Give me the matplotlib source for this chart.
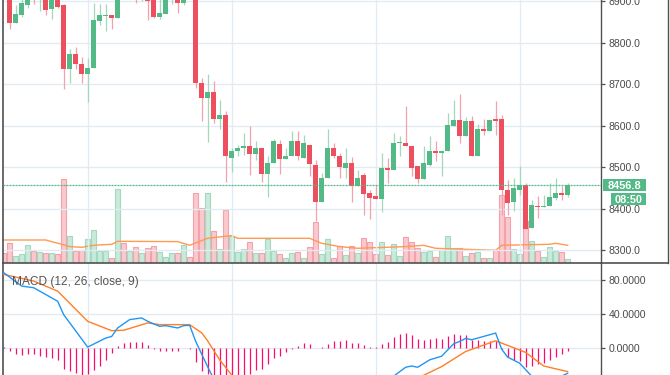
import matplotlib
matplotlib.use('Agg')
import matplotlib.pyplot as plt
import matplotlib.transforms as mtransforms
from matplotlib.patches import Rectangle

plt.rcParams['font.family'] = ['Liberation Sans', 'DejaVu Sans']

# candles (index 0 is the half hidden one at the left edge)
opens = [8935, 8915, 8847, 8866, 8890, 8925, 8910, 8920, 8881, 8912,
         8890, 8737, 8773, 8749, 8725, 8739, 8852, 8865, 8866, 8859,
         8925, 8912, 8930, 8908, 8920, 8915, 8862, 8869, 8905, 8925,
         8894, 8925, 8915, 8703, 8667, 8681, 8617, 8626, 8522, 8540,
         8545, 8550, 8531, 8547, 8483, 8509, 8555, 8519, 8526, 8562,
         8523, 8554, 8506, 8416, 8473, 8545, 8528, 8497, 8511, 8454,
         8480, 8437, 8430, 8423, 8498, 8493, 8558, 8559, 8552, 8502,
         8471, 8506, 8540, 8533, 8538, 8600, 8614, 8574, 8612, 8528,
         8593, 8586, 8617, 8617, 8446, 8415, 8446, 8458, 8353, 8407,
         8405, 8406, 8425, 8439, 8432]
highs = [8950, 8925, 8890, 8905, 8915, 8935, 8940, 8930, 8915, 8920,
         8893, 8785, 8790, 8766, 8763, 8895, 8893, 8893, 8866, 8930,
         8940, 8935, 8945, 8925, 8930, 8925, 8905, 8925, 8930, 8935,
         8920, 8940, 8925, 8715, 8725, 8708, 8662, 8636, 8547, 8554,
         8583, 8600, 8562, 8547, 8527, 8569, 8566, 8547, 8586, 8586,
         8578, 8554, 8518, 8487, 8593, 8557, 8535, 8547, 8524, 8494,
         8485, 8446, 8458, 8535, 8521, 8583, 8574, 8648, 8552, 8502,
         8552, 8574, 8564, 8540, 8631, 8662, 8677, 8621, 8624, 8605,
         8617, 8614, 8660, 8626, 8468, 8473, 8502, 8463, 8420, 8430,
         8432, 8463, 8473, 8454, 8463]
lows = [8908, 8833, 8847, 8862, 8882, 8893, 8876, 8867, 8857, 8884,
        8687, 8703, 8737, 8703, 8658, 8739, 8842, 8828, 8833, 8859,
        8905, 8906, 8896, 8900, 8854, 8860, 8857, 8869, 8893, 8871,
        8890, 8905, 8691, 8612, 8560, 8607, 8593, 8464, 8488, 8527,
        8530, 8480, 8518, 8464, 8428, 8509, 8483, 8519, 8526, 8517,
        8523, 8478, 8370, 8416, 8473, 8521, 8473, 8473, 8416, 8454,
        8385, 8375, 8423, 8391, 8463, 8493, 8528, 8550, 8478, 8463,
        8471, 8504, 8516, 8478, 8538, 8600, 8557, 8574, 8528, 8528,
        8578, 8586, 8578, 8384, 8384, 8394, 8432, 8350, 8353, 8377,
        8405, 8406, 8420, 8422, 8427]
closes = [8920, 8847, 8869, 8895, 8908, 8905, 8930, 8878, 8905, 8886,
          8737, 8773, 8749, 8725, 8739, 8854, 8866, 8867, 8859, 8915,
          8912, 8928, 8910, 8918, 8899, 8862, 8871, 8915, 8920, 8894,
          8912, 8912, 8703, 8667, 8681, 8617, 8626, 8526, 8540, 8547,
          8550, 8531, 8547, 8483, 8511, 8564, 8519, 8528, 8564, 8526,
          8557, 8507, 8416, 8475, 8545, 8526, 8500, 8511, 8454, 8475,
          8435, 8425, 8423, 8498, 8493, 8559, 8560, 8550, 8499, 8471,
          8509, 8540, 8535, 8540, 8602, 8614, 8574, 8612, 8528, 8593,
          8586, 8614, 8612, 8444, 8413, 8449, 8458, 8350, 8408, 8405,
          8407, 8427, 8439, 8432, 8456.8]

# volume (arbitrary units) and its moving average
volumes = [10, 20, 7, 9, 18, 12, 11, 10, 10, 9,
           84, 27, 12, 13, 24, 33, 12, 12, 5, 74,
           20, 12, 16, 10, 15, 17, 11, 6, 10, 10,
           18, 6, 70, 55, 70, 32, 14, 53, 27, 11,
           14, 21, 10, 10, 24, 12, 9, 5, 10, 11,
           5, 16, 41, 9, 24, 5, 17, 8, 17, 10,
           25, 21, 9, 21, 8, 19, 7, 26, 21, 15,
           11, 12, 6, 13, 27, 15, 15, 7, 10, 11,
           5, 5, 13, 68, 46, 14, 9, 42, 22, 12,
           6, 16, 12, 11, 4]
vol_ma_idx = [0, 7, 10, 11, 13, 15, 18, 19, 29, 31, 33, 34, 38, 39, 51, 53,
              56, 59, 67, 70, 72, 82, 83, 91, 92, 94]
vol_ma = [23.3, 23.3, 18.5, 16.7, 16, 18, 19, 22, 21.7, 18, 22.7, 25, 27.7, 25, 25, 20,
          16.7, 15, 16.7, 18, 15, 13, 18, 19, 20, 18]

# MACD (12, 26, close, 9)
hist = [1, -3.9, -7, -8.3, -7.5, -7.5, -8.7, -10.6, -11.8, -13.4,
        -24.5, -26.8, -29.2, -31.5, -30.7, -25.2, -20.5, -13.4, -6.3, 2.8,
        5.5, 7.5, 7.5, 6.7, 3.9, -1.6, -3.5, -3.2, -3.2, -3.5,
        0, -1.5, -15.8, -26.4, -31, -34, -36, -37, -36, -35,
        -33, -31, -25.2, -24, -18.9, -12.2, -8.7, -4.7, -0.5, 2,
        5.5, 5, 0, 0.8, 5, 8.7, 8.7, 9.9, 6.3, 6.3,
        3.9, 1.6, 0.8, 5, 7.5, 13.4, 17, 18, 15.8, 11,
        9.9, 11, 12.2, 11, 14.6, 17, 15.8, 15.8, 9.9, 9.9,
        8.7, 8.7, 8.7, -1.6, -11, -14.2, -15, -22, -20.5, -18.9,
        -17, -13.4, -9.9, -7.1, -3.2]
macd_idx = [0, 3, 5, 9, 10, 14, 17, 18, 19, 21, 23, 24, 26, 27, 29, 30, 31, 32, 33, 34, 35,
            38, 40, 43, 46, 49, 52, 56, 60, 63, 65, 67, 68, 69, 71, 73, 75, 76, 77, 78,
            82, 83, 84, 86, 88, 90, 92, 94]
macd = [88.7, 72.9, 71, 55.1, 39.4, 1.2, 11.8, 13.7, 23.7, 33.5, 35.5, 31.5, 25.6, 26.4, 23.7, 26.4, 26.8, 8, -7, -22, -36,
        -65, -76, -76, -68, -58, -53, -47, -44, -38, -33, -22.5, -21, -22.5, -13.8, -9.5, 5.1, 7.9, 11.4, 9.8,
        17.7, -1.2, -10.6, -17.7, -33, -38, -36, -29.6]
signal_idx = [0, 5, 9, 14, 18, 20, 24, 26, 31, 33, 34, 36, 38, 42, 48, 55, 62, 70, 73, 77, 82, 83, 87, 90, 94]
signal = [86.7, 78.8, 67, 31.5, 20.5, 21, 29.6, 27.6, 27.6, 18, 8.5, -13.8, -31.6, -48, -56, -53, -44, -32,
          -21.7, -4, 8.6, 5.9, -5, -21, -27.6]

price_ticks = [8300, 8400, 8500, 8600, 8700, 8800, 8900]
macd_ticks = [0, 40, 80]
last_price = closes[-1]
last_time = '08:50'

UP = '#53b987'
DOWN = '#ee4f5f'
GRID = '#e1ebf2'
AXIS = '#505050'
TEXT = '#4a4a4a'

W, H = 670, 375
fig = plt.figure(figsize=(W / 100, H / 100), dpi=100)
left, right, split = 3, 601, 263.3

# price pane: volume underneath, candles on top
ax_vol = fig.add_axes([left / W, 1 - split / H, (right - left) / W, split / H])
ax = fig.add_axes([left / W, 1 - split / H, (right - left) / W, split / H])
ax.patch.set_visible(False)
ax_m = fig.add_axes([left / W, 0, (right - left) / W, 1 - split / H])

n = len(closes)
idx = list(range(n))
xlim = (-0.11, 99.56)

vol_fc = ['#c9e9da' if c >= o else '#fac9ce' for o, c in zip(opens, closes)]
vol_ec = ['#a3d9bf' if c >= o else '#f3a1ab' for o, c in zip(opens, closes)]
ax_vol.bar(idx, volumes, width=0.8, color=vol_fc, edgecolor=vol_ec, linewidth=0.8)
ax_vol.plot(vol_ma_idx, vol_ma, color='#ff9a52', linewidth=1.0)
ax_vol.set_ylim(0, split)
ax_vol.set_xlim(*xlim)
ax_vol.axis('off')

# grid
for p in price_ticks:
    ax.axhline(p, color=GRID, linewidth=1.0, zorder=0)
for gx in [14, 38, 62, 86]:
    ax.axvline(gx, color=GRID, linewidth=1.0, zorder=0)
    ax_m.axvline(gx, color=GRID, linewidth=1.0, zorder=0)
for m in macd_ticks:
    ax_m.axhline(m, color=GRID, linewidth=1.0, zorder=0)

# candles
for i in idx:
    o, h, l, c = opens[i], highs[i], lows[i], closes[i]
    up = c >= o
    ax.vlines(i, l, h, color='#a3d8bf' if up else '#f2a2ac', linewidth=0.9, zorder=2)
    body = max(abs(c - o), 2.4)
    ax.bar(i, body, bottom=min(o, c), width=0.78, color=UP if up else DOWN,
           linewidth=0, zorder=3)

ax.axhline(last_price, color=UP, linewidth=0.9, dashes=(1.6, 0.8), zorder=4)

ax.set_xlim(*xlim)
ax.set_ylim(8268.6, 8902.4)
ax.set_xticks([])
ax.yaxis.tick_right()
ax.set_yticks(price_ticks)
ax.set_yticklabels([f'{p:.1f}' for p in price_ticks])

# MACD pane
ax_m.vlines(idx, 0, hist, color='#ff0a6c', linewidth=0.9, zorder=2)
ax_m.plot(signal_idx, signal, color='#ff7f27', linewidth=1.0, zorder=3)
ax_m.plot(macd_idx, macd, color='#2196f3', linewidth=1.0, zorder=4)
ax_m.set_xlim(*xlim)
ax_m.set_ylim(-31.6, 99.7)
ax_m.set_xticks([])
ax_m.yaxis.tick_right()
ax_m.set_yticks(macd_ticks)
ax_m.set_yticklabels([f'{m:.4f}' for m in macd_ticks])
ax_m.text(0.0145, 0.835, 'MACD (12, 26, close, 9)', transform=ax_m.transAxes,
          fontsize=8.6, color='#555555', va='center', ha='left', zorder=6)

for a in (ax, ax_m):
    a.tick_params(axis='y', length=3, width=0.9, color=AXIS, pad=2.5,
                  labelsize=7.6, labelcolor=TEXT)
    a.spines['left'].set_color(AXIS)
    a.spines['right'].set_color(AXIS)
    a.spines['left'].set_linewidth(1.2)
    a.spines['right'].set_linewidth(1.0)
    a.spines['bottom'].set_visible(False)
ax.spines['top'].set_visible(False)
ax_m.spines['top'].set_color(AXIS)
ax_m.spines['top'].set_linewidth(1.2)

# frame of the price scale
fig.add_artist(plt.Line2D([right / W, 668 / W], [1 - split / H] * 2, color=AXIS, linewidth=1.2))
fig.add_artist(plt.Line2D([668 / W] * 2, [1 - split / H, 1], color=AXIS, linewidth=1.0))

# last price / time labels on the price scale
trans = mtransforms.blended_transform_factory(ax.transAxes, ax.transData)
px = (ax.get_ylim()[1] - ax.get_ylim()[0]) / split   # price units per pixel
box_right = (646 - left) / (right - left)
price_box_left = (603.3 - left) / (right - left)
time_box_left = (610.7 - left) / (right - left)
time_y = last_price - 13.5 * px
for x0, yc, label in [(price_box_left, last_price, f'{last_price:.1f}'),
                      (time_box_left, time_y, last_time)]:
    ax.add_patch(Rectangle((x0, yc - 6 * px), box_right - x0, 12 * px, transform=trans,
                           facecolor=UP, edgecolor='none', clip_on=False, zorder=9))
    ax.text((x0 + box_right) / 2, yc, label, transform=trans, ha='center', va='center_baseline',
            fontsize=7.9, fontweight='bold', color='white', zorder=10, clip_on=False)

fig.savefig('out.png', dpi=100)
